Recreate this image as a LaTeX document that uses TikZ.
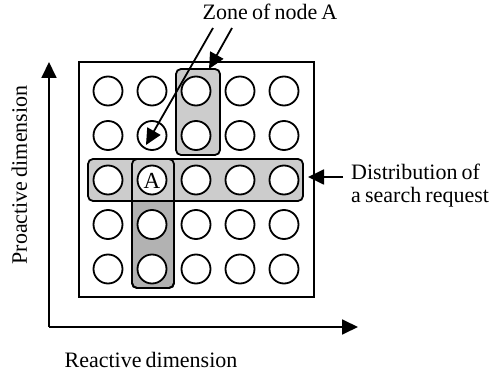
\documentclass[tikz,border=0pt]{standalone}
\usepackage{fontspec}
\setmainfont{Liberation Serif}[WordSpace=0.75]
\usetikzlibrary{arrows.meta}
\begin{document}
\begin{tikzpicture}[x=1pt,y=-1pt,
  line width=1.8pt,
  font=\fontsize{22}{25}\selectfont,
  peer/.style={circle, draw, fill=white, minimum size=29pt, inner sep=0pt},
  band/.style={rectangle, draw, rounded corners=5pt, inner sep=0pt},
  tip/.style={-{Triangle[length=16pt,width=15pt]}},
]
\useasboundingbox (0,0) rectangle (490,379);

% frame of the overlay grid
\draw (79,62) rectangle (314,297);

% zones: dark column, light row on top, then the column outline again
\node[band, fill=black!30, minimum width=42pt, minimum height=129pt] (colfill) at (153,223.5) {};
\node[band, fill=black!20, minimum width=44pt, minimum height=86pt] (zone) at (198,112) {};
\node[band, fill=black!20, minimum width=215pt, minimum height=42pt] (row) at (195.5,180) {};
\node[band, minimum width=42pt, minimum height=129pt] (col) at (153,223.5) {};

% peers
\foreach \r in {1,...,5}
  \foreach \c in {1,...,5}
    \node[peer] (p\r\c) at ({108+44*(\c-1)},{91+44.5*(\r-1)}) {};
\node[font=\fontsize{23}{26}\selectfont, yshift=-1pt] (labA) at (p32) {A};

% axes
\coordinate (o) at (49,327);
\coordinate (ytop) at (49,62);
\coordinate (xend) at (358,327);
\draw[tip] (o) -- (ytop);
\draw[tip] (o) -- (xend);

% labels
\node[anchor=base] (zlab) at (270,20) {Zone of node A};
\node[anchor=base, rotate=90] (pro) at (27,175) {Proactive dimension};
\node[anchor=base] (rea) at (151,367) {Reactive dimension};
\node[anchor=base west] (dist1) at (347,180) {Distribution of};
\node[anchor=base west] (dist2) at (347,203) {a search request};

% pointers from the labels
\coordinate (z1s) at (213,28);
\coordinate (z1e) at (146,145);
\coordinate (z2s) at (232,28);
\coordinate (z2e) at (209,69);
\draw[tip] (z1s) -- (z1e);
\draw[tip] (z2s) -- (z2e);
\coordinate (dtail) at (343,177);
\coordinate (dtip) at (308,177);
\draw[tip] (dtail) -- (dtip);
\end{tikzpicture}
\end{document}
